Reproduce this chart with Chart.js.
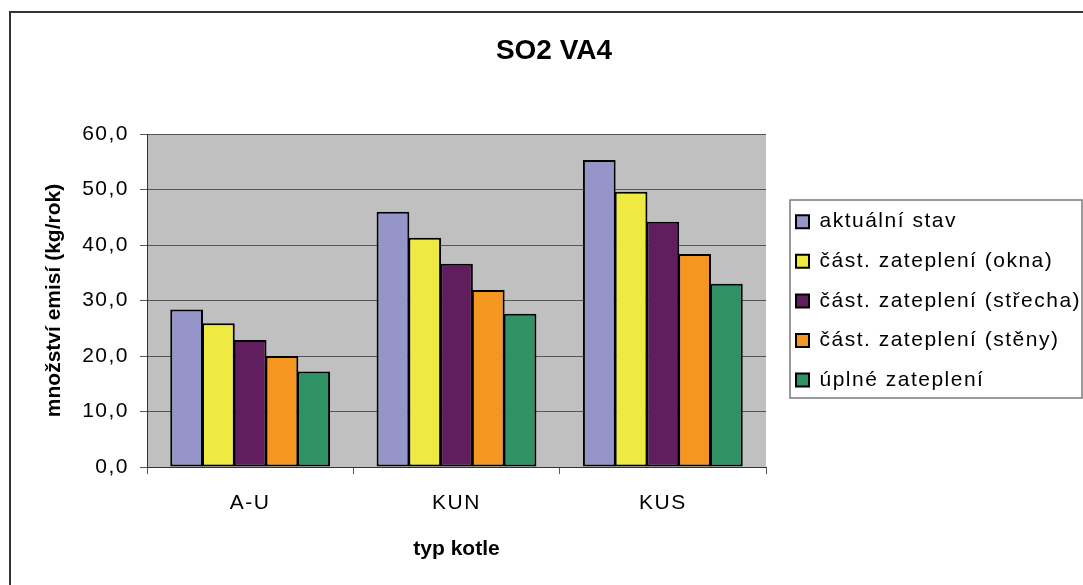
<!DOCTYPE html>
<html>
<head>
<meta charset="utf-8">
<script src="https://cdn.jsdelivr.net/npm/chart.js@4.4.0/dist/chart.umd.min.js"></script>
<style>
html, body { margin: 0; padding: 0; background: #fff; }
canvas { display: block; }
</style>
</head>
<body>
<canvas id="graf" width="1083" height="585"></canvas>
<script>
var kategorie = ['A-U', 'KUN', 'KUS'];
var aktualniStav = [28.4, 46.0, 55.3];
var castOkna = [25.9, 41.3, 49.6];
var castStrecha = [22.9, 36.6, 44.2];
var castSteny = [20.0, 31.9, 38.4];
var uplneZatepleni = [17.2, 27.6, 33.0];
var nazvySerii = ['aktuální stav', 'část. zateplení (okna)', 'část. zateplení (střecha)', 'část. zateplení (stěny)', 'úplné zateplení'];
var barvy = ['#9595C9', '#EFEA41', '#601E5E', '#F4961F', '#2E9264'];
var osaYMin = 0;
var osaYMax = 60;
var osaYKrok = 10;

Chart.defaults.font.family = '"Liberation Sans", Arial, sans-serif';
Chart.defaults.color = '#000';

// bez prostrkani pro tucne nadpisy
function bezMezer(fn) {
    return function () {
        var c = this.ctx;
        var puvodni = c.letterSpacing;
        c.letterSpacing = '0px';
        fn.apply(this, arguments);
        c.letterSpacing = puvodni;
    };
}

var rozlozeni = {
    id: 'rozlozeni',
    beforeLayout(chart) {
        var lg = chart.legend;
        if (!lg._upraveno) {
            var fit = lg.fit;
            lg.fit = function () {
                fit.apply(this, arguments);
                this.width = 317;
            };
            lg._upraveno = true;
        }
    },
    afterLayout(chart) {
        var lg = chart.legend;
        lg.left = 796 - 18.6;
        lg.right = 1081;
        lg.top = 192.6;
        lg.bottom = 585;
        lg.width = lg.right - lg.left;
        lg.height = lg.bottom - lg.top;

        var t = chart.titleBlock;
        t.left = 25;
        t.right = 1083;
        if (!t._upraveno) {
            t.draw = bezMezer(t.draw);
            t._upraveno = true;
        }
        Object.values(chart.scales).forEach(function (s) {
            if (!s._upraveno) {
                s.drawTitle = bezMezer(s.drawTitle);
                s._upraveno = true;
            }
        });
    },
    beforeDraw(chart) {
        var ctx = chart.ctx;
        var a = chart.chartArea;
        ctx.save();
        ctx.fillStyle = '#fff';
        ctx.fillRect(0, 0, chart.width, chart.height);
        ctx.fillStyle = '#C0C0C0';
        ctx.fillRect(a.left, a.top, a.right - a.left, a.bottom - a.top);
        ctx.strokeStyle = '#333';
        ctx.lineWidth = 2;
        ctx.strokeRect(10, 12, chart.width + 20, chart.height + 20);
        ctx.restore();
        ctx.letterSpacing = '1.5px';
    },
    afterDraw(chart) {
        var ctx = chart.ctx;
        ctx.save();
        ctx.strokeStyle = '#7a7a7a';
        ctx.lineWidth = 1.5;
        ctx.strokeRect(790, 200, 292, 198);
        ctx.restore();
    }
};

var datoveRady = [aktualniStav, castOkna, castStrecha, castSteny, uplneZatepleni].map(function (hodnoty, i) {
    return {
        label: nazvySerii[i],
        data: hodnoty,
        backgroundColor: barvy[i],
        borderColor: '#000',
        borderWidth: 2,
        borderSkipped: false,
        categoryPercentage: 0.77,
        barPercentage: 1.03
    };
});

var graf = new Chart(document.getElementById('graf').getContext('2d'), {
    type: 'bar',
    data: {
        labels: kategorie,
        datasets: datoveRady
    },
    plugins: [rozlozeni],
    options: {
        responsive: false,
        animation: false,
        layout: { padding: 0 },
        plugins: {
            title: {
                display: true,
                text: 'SO2 VA4',
                font: { size: 28, weight: 'bold' },
                padding: { top: 34.5, bottom: 65.9 }
            },
            legend: {
                position: 'right',
                align: 'start',
                labels: {
                    boxWidth: 13,
                    boxHeight: 13,
                    padding: 18.6,
                    font: { size: 21 },
                    color: '#000'
                }
            },
            tooltip: { enabled: false }
        },
        scales: {
            x: {
                grid: {
                    drawOnChartArea: false,
                    drawTicks: true,
                    tickLength: 7,
                    color: '#555',
                    offset: true
                },
                border: { display: true, color: '#333', width: 1 },
                ticks: {
                    font: { size: 21 },
                    padding: 17,
                    color: '#000'
                },
                title: {
                    display: true,
                    text: 'typ kotle',
                    font: { size: 21, weight: 'bold' },
                    padding: { bottom: 23.4 }
                },
                afterFit: function (scale) { scale.height = 118; }
            },
            y: {
                min: osaYMin,
                max: osaYMax,
                grid: {
                    color: '#555',
                    tickLength: 7
                },
                border: { display: true, color: '#333', width: 1 },
                ticks: {
                    stepSize: osaYKrok,
                    font: { size: 21 },
                    padding: 11,
                    color: '#000',
                    callback: function (v) { return v.toFixed(1).replace('.', ','); }
                },
                title: {
                    display: true,
                    text: 'množství emisí (kg/rok)',
                    font: { size: 21, weight: 'bold' },
                    padding: { top: 41.4 }
                },
                afterFit: function (scale) { scale.width = 147; }
            }
        }
    }
});
</script>
</body>
</html>
